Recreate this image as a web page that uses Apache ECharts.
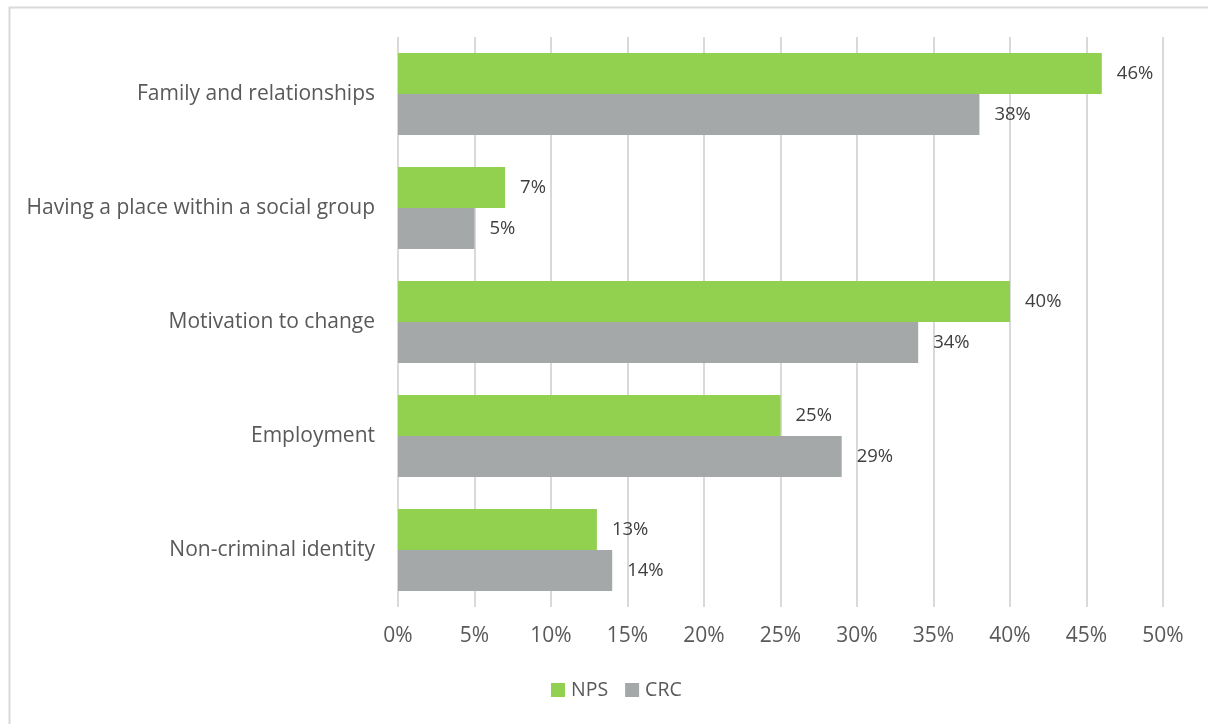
<!DOCTYPE html>
<html>
<head>
<meta charset="utf-8">
<script src="https://cdn.jsdelivr.net/npm/echarts@6/dist/echarts.min.js"></script>
<style>
  html, body { margin: 0; padding: 0; background: #fff; }
  #chart { width: 1208px; height: 724px; }
</style>
</head>
<body>
<div id="chart"></div>
<script>
const categories = [
  'Family and relationships',
  'Having a place within a social group',
  'Motivation to change',
  'Employment',
  'Non-criminal identity'
];
const npsValues = [46, 7, 40, 25, 13];
const crcValues = [38, 5, 34, 29, 14];
const seriesNames = ['NPS', 'CRC'];

const textColor = '#595959';
const fontFamily = '"Open Sans", sans-serif';

const chart = echarts.init(document.getElementById('chart'));

function barSeries(name, data, color) {
  return {
    name: name,
    type: 'bar',
    data: data,
    barWidth: 41,
    barGap: '0%',
    itemStyle: { color: color },
    label: {
      show: true,
      position: 'right',
      distance: 15,
      formatter: p => p.value + '%',
      color: '#404040',
      fontSize: 18.5,
      fontFamily: fontFamily
    }
  };
}

chart.setOption({
  animation: false,
  graphic: [{
    type: 'rect',
    shape: { x: 9.5, y: 7.5, width: 1300, height: 800 },
    style: { fill: 'none', stroke: '#d9d9d9', lineWidth: 2 },
    silent: true
  }],
  grid: { left: 398, right: 45, top: 37, bottom: 117 },
  legend: {
    data: seriesNames,
    bottom: 19,
    left: 546,
    itemWidth: 14,
    itemHeight: 14,
    itemGap: 17,
    icon: 'rect',
    textStyle: { color: textColor, fontSize: 19.5, fontFamily: fontFamily, padding: [0, 0, 0, 1] }
  },
  xAxis: {
    type: 'value',
    min: 0,
    max: 50,
    interval: 5,
    axisLine: { show: false },
    axisTick: { show: false },
    splitLine: { lineStyle: { color: '#d9d9d9', width: 2 } },
    axisLabel: {
      formatter: v => v + '%',
      color: textColor,
      fontSize: 21,
      fontFamily: fontFamily,
      margin: 19
    }
  },
  yAxis: {
    type: 'category',
    data: categories,
    inverse: true,
    axisLine: { show: false },
    axisTick: { show: false },
    axisLabel: {
      color: textColor,
      fontSize: 21,
      fontFamily: fontFamily,
      margin: 23
    }
  },
  series: [
    barSeries(seriesNames[0], npsValues, '#92d050'),
    barSeries(seriesNames[1], crcValues, '#a5a8a9')
  ]
});
</script>
</body>
</html>
